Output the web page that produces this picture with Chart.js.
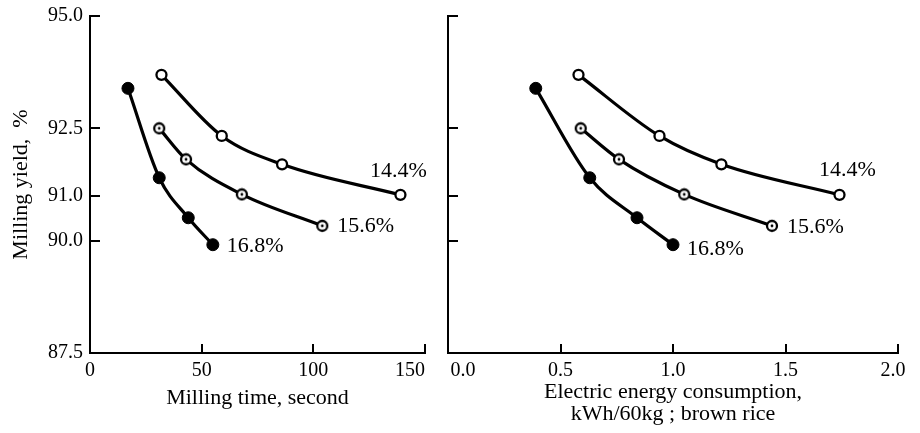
<!DOCTYPE html>
<html><head><meta charset="utf-8">
<script src="https://cdn.jsdelivr.net/npm/chart.js@4"></script>
<style>
html,body{margin:0;padding:0;background:#fff;}
#wrap{position:relative;width:920px;height:433px;overflow:hidden;}
canvas{position:absolute;top:0;}
</style></head><body>
<div id="wrap">
<canvas id="left" width="445" height="433" style="left:0px"></canvas>
<canvas id="right" width="492" height="433" style="left:428px"></canvas>
</div>
<script>
// ---- data ----
const moistureLabels = ['14.4%', '15.6%', '16.8%'];
const yTicks = [87.5, 90.0, 91.0, 92.5, 95.0];
const timeTicks = [0, 50, 100, 150];
const energyTicks = [0.0, 0.5, 1.0, 1.5, 2.0];

const yield144 = [93.69, 92.33, 91.70, 91.02];
const yield156 = [92.50, 91.81, 91.03, 90.33];
const yield168 = [93.39, 91.40, 90.51, 89.91];

const time144 = [32, 59, 86, 139];
const time156 = [31, 43, 68, 104];
const time168 = [17, 31, 44, 55];

const energy144 = [0.58, 0.94, 1.215, 1.74];
const energy156 = [0.59, 0.76, 1.05, 1.44];
const energy168 = [0.39, 0.63, 0.84, 1.00];

// ---- styles ----
const FONT = "'Liberation Serif', 'DejaVu Serif', serif";
const FS = '\u2007'; // figure space, used to nudge edge labels off the neighbouring panel

function bullseye() {
  const c = document.createElement('canvas');
  c.width = 14; c.height = 14;
  const g = c.getContext('2d');
  g.beginPath(); g.arc(7, 7, 5, 0, Math.PI * 2);
  g.fillStyle = '#fff'; g.fill();
  g.lineWidth = 2.3; g.strokeStyle = '#000'; g.stroke();
  g.beginPath(); g.arc(7, 7, 1.4, 0, Math.PI * 2);
  g.fillStyle = '#000'; g.fill();
  return c;
}
const bull = bullseye();

const inwardTicks = {
  id: 'inwardTicks',
  afterDraw(chart) {
    const ctx = chart.ctx, a = chart.chartArea;
    const x = chart.scales.x, y = chart.scales.y;
    ctx.save();
    ctx.strokeStyle = '#000'; ctx.lineWidth = 2;
    x.ticks.forEach(t => {
      if (t.value === x.min) return;
      const px = Math.round(x.getPixelForValue(t.value));
      ctx.beginPath(); ctx.moveTo(px, a.bottom); ctx.lineTo(px, a.bottom - 9); ctx.stroke();
    });
    y.ticks.forEach(t => {
      if (t.value === y.min) return;
      const py = Math.round(y.getPixelForValue(t.value));
      ctx.beginPath(); ctx.moveTo(a.left, py); ctx.lineTo(a.left + 10, py); ctx.stroke();
    });
    ctx.restore();
  }
};

const endLabels = {
  id: 'endLabels',
  afterDatasetsDraw(chart, args, opts) {
    const ctx = chart.ctx;
    ctx.save();
    ctx.fillStyle = '#000';
    ctx.font = '22px ' + FONT;
    ctx.textBaseline = 'middle';
    chart.data.datasets.forEach((ds, i) => {
      const meta = chart.getDatasetMeta(i);
      const pt = meta.data[meta.data.length - 1];
      const o = opts.offsets[i];
      ctx.textAlign = o.align;
      ctx.fillText(ds.label, pt.x + o.dx, pt.y + o.dy);
    });
    ctx.restore();
  }
};

function series(xs, ys) { return xs.map((v, i) => ({ x: v, y: ys[i] })); }

function datasets(x144, x156, x168) {
  const common = { borderColor: '#000', borderWidth: 3.2, cubicInterpolationMode: 'monotone', fill: false };
  return [
    Object.assign({ label: moistureLabels[0], data: series(x144, yield144),
      pointStyle: 'circle', pointRadius: 5, pointBackgroundColor: '#fff', pointBorderColor: '#000', pointBorderWidth: 2.3 }, common),
    Object.assign({ label: moistureLabels[1], data: series(x156, yield156),
      pointStyle: bull, pointRadius: 6 }, common),
    Object.assign({ label: moistureLabels[2], data: series(x168, yield168),
      pointStyle: 'circle', pointRadius: 6, pointBackgroundColor: '#000', pointBorderColor: '#000', pointBorderWidth: 1 }, common)
  ];
}

function makeChart(id, dsets, xTicksArr, fmt, xTitle, xTitlePad, showY, yWidth, padRight, offsets) {
  return new Chart(document.getElementById(id), {
    type: 'line',
    data: { datasets: dsets },
    plugins: [inwardTicks, endLabels],
    options: {
      responsive: false, animation: false,
      layout: { padding: { top: 16, right: padRight, left: 0, bottom: 0 } },
      plugins: { legend: { display: false }, tooltip: { enabled: false }, endLabels: { offsets } },
      scales: {
        x: {
          type: 'linear', min: xTicksArr[0], max: xTicksArr[xTicksArr.length - 1],
          afterBuildTicks: s => { s.ticks = xTicksArr.map(v => ({ value: v })); },
          afterFit: s => { s.height = 80; s.paddingLeft = 0; s.paddingRight = 0; },
          grid: { display: false, drawTicks: false },
          border: { display: true, color: '#000', width: 2 },
          ticks: { color: '#000', padding: 6, font: { family: FONT, size: 20 }, callback: fmt, maxRotation: 0, autoSkip: false },
          title: { display: true, text: xTitle, color: '#000', font: { family: FONT, size: 22, lineHeight: 1 }, padding: { top: 0, bottom: xTitlePad } }
        },
        y: {
          type: 'linear', min: 87.5, max: 95,
          afterBuildTicks: s => { s.ticks = yTicks.map(v => ({ value: v })); },
          afterFit: s => { s.width = yWidth; s.paddingTop = 0; s.paddingBottom = 0; },
          grid: { display: false, drawTicks: false },
          border: { display: true, color: '#000', width: 2 },
          ticks: { display: showY, color: '#000', padding: 7, font: { family: FONT, size: 20 }, callback: v => Number(v).toFixed(1) },
          title: { display: showY, text: 'Milling yield,  %', color: '#000', font: { family: FONT, size: 22, lineHeight: 1 }, padding: { top: 10, bottom: 0 } }
        }
      }
    }
  });
}

makeChart('left', datasets(time144, time156, time168), timeTicks,
  v => (v === 150 ? String(v) + FS + FS + FS : String(v)),
  'Milling time, second', 23.5, true, 90, 20,
  [{ align: 'center', dx: -2, dy: -24 }, { align: 'left', dx: 15, dy: 0 }, { align: 'left', dx: 14, dy: 2 }]);

makeChart('right', datasets(energy144, energy156, energy168), energyTicks,
  v => (v === 0 ? FS + FS + FS + Number(v).toFixed(1) : (v === 2 ? Number(v).toFixed(1) + FS : Number(v).toFixed(1))),
  ['Electric energy consumption,', 'kWh/60kg ; brown rice'], 8, false, 20, 22,
  [{ align: 'center', dx: 8, dy: -25 }, { align: 'left', dx: 15, dy: 1 }, { align: 'left', dx: 14, dy: 5 }]);
</script>
</body></html>
